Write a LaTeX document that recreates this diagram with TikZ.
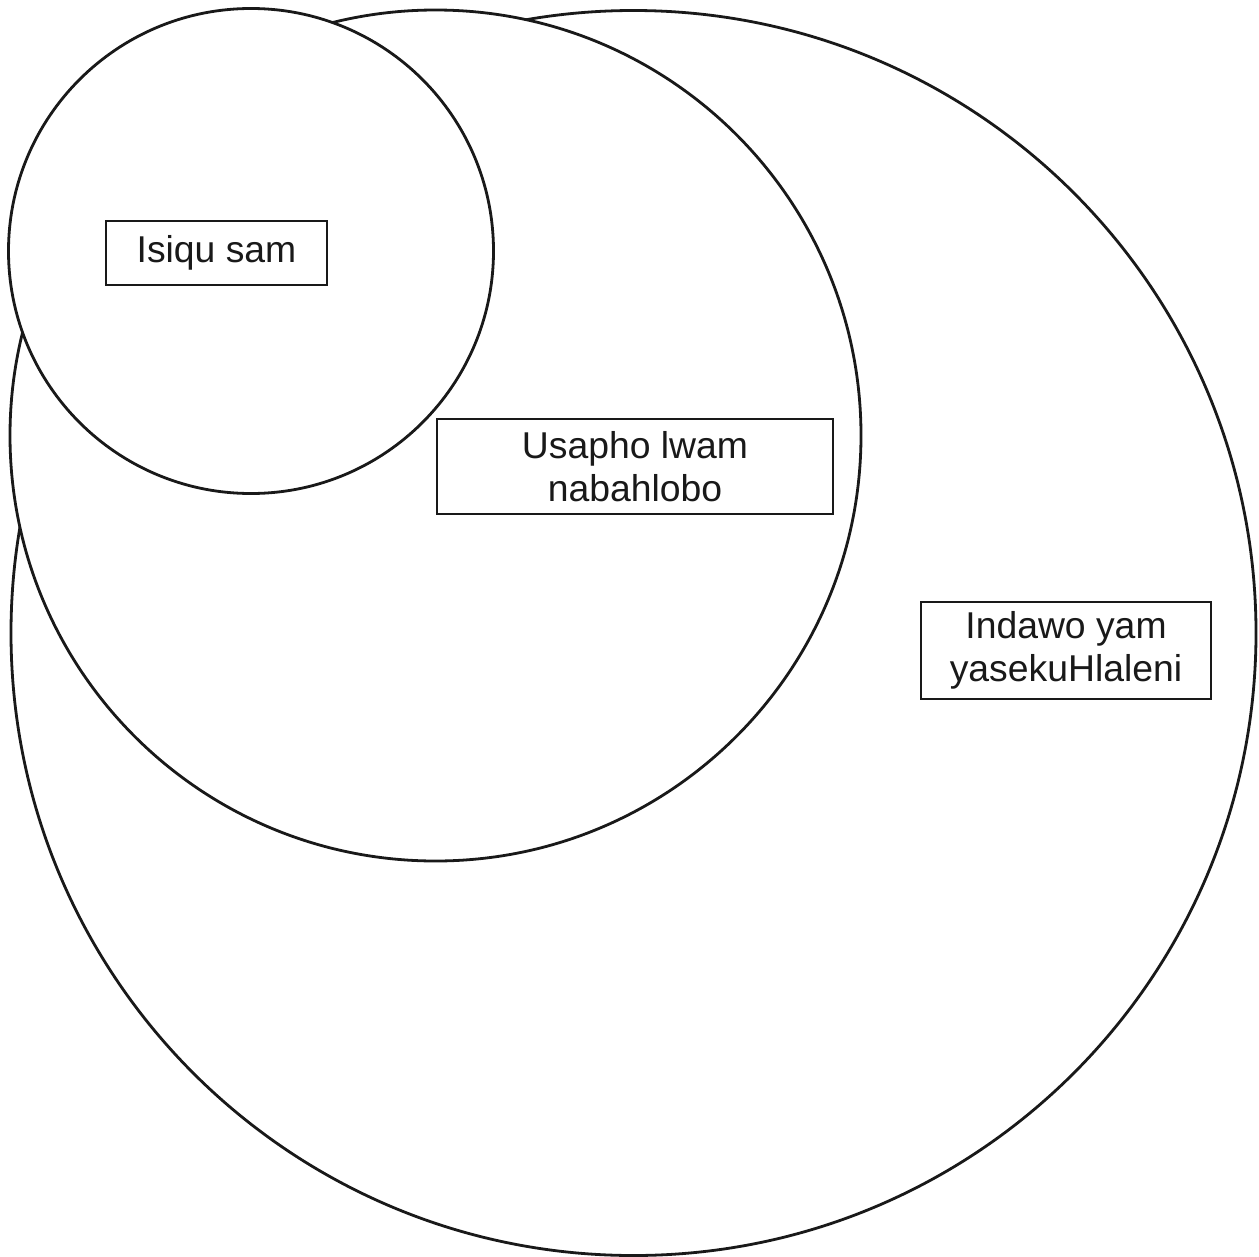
\documentclass[tikz,border=0pt]{standalone}
\usepackage{fontspec}
\setmainfont{Liberation Sans}
\begin{document}
\begin{tikzpicture}[x=0.75pt,y=-0.75pt,
  ring/.style={circle, draw=black!90, line width=2.1pt, fill=white, inner sep=0pt, outer sep=0pt},
  label box/.style={rectangle, draw=black!90, line width=1.6pt, fill=white, inner sep=0pt, align=center,
    font=\fontsize{28}{32.5}\selectfont, text=black!90}]
\useasboundingbox (0,0) rectangle (1259,1256);
\node[ring, minimum size=933.75pt] (large) at (633.5,633) {};
\node[ring, minimum size=638.25pt] (medium) at (435.5,435.5) {};
\node[ring, minimum size=363.75pt] (small) at (251,251) {};
\node[label box, minimum width=165.75pt, minimum height=48pt] (b1) at (216.5,253) {Isiqu sam};
\node[label box, minimum width=297pt, minimum height=71.25pt] (b2) at (635,466.5) {Usapho lwam\\nabahlobo};
\node[label box, minimum width=217.5pt, minimum height=72.75pt] (b3) at (1066,650.5) {Indawo yam\\yasekuHlaleni};
\end{tikzpicture}
\end{document}
